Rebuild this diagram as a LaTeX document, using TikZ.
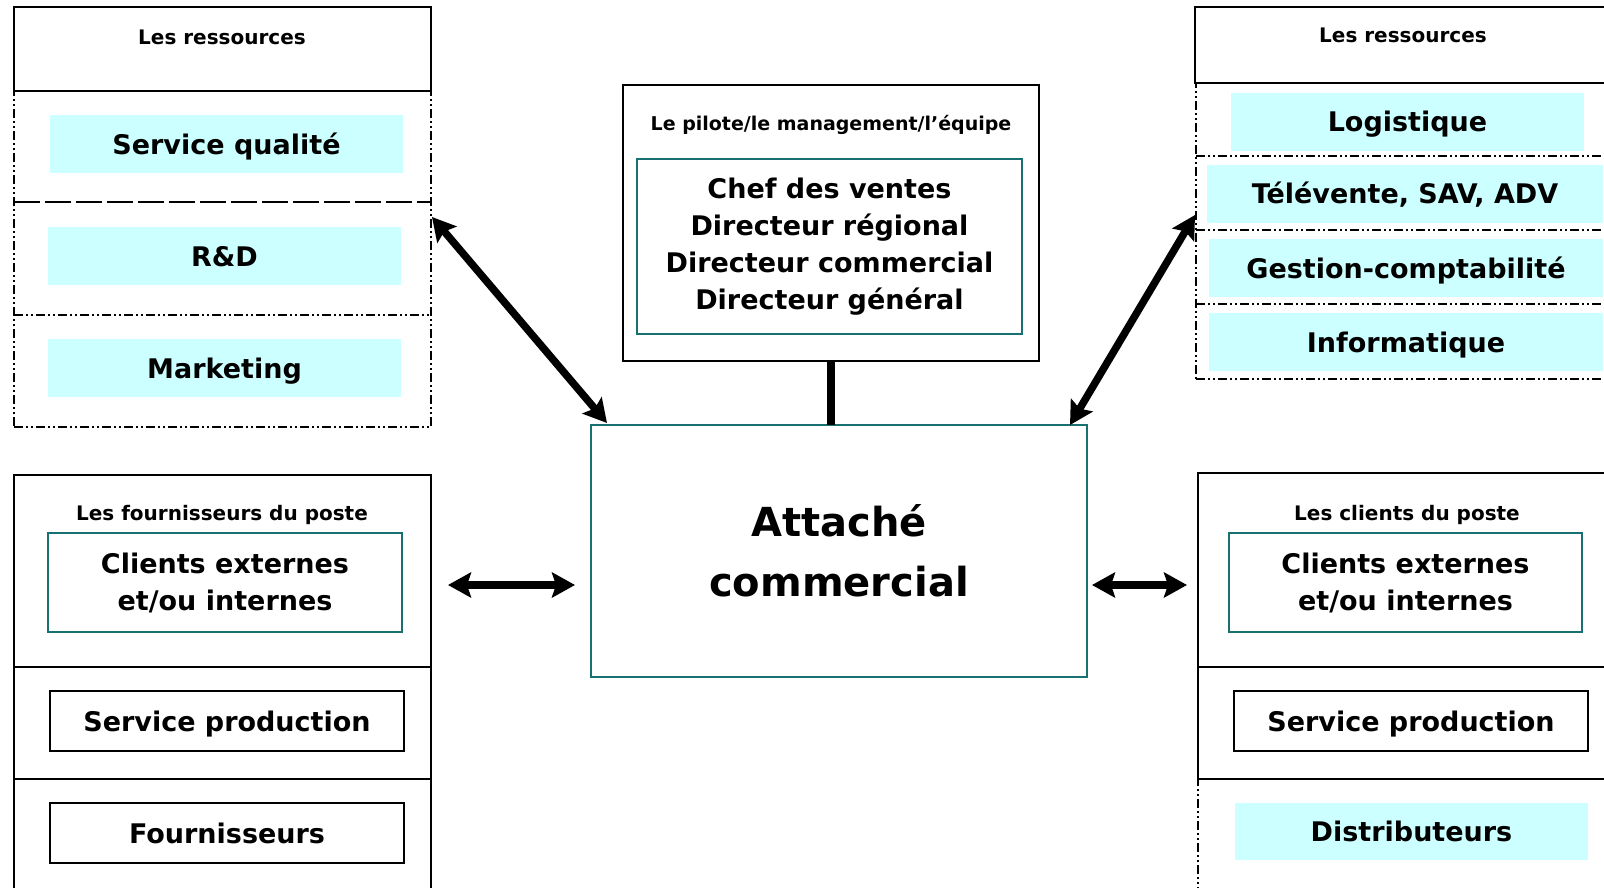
\documentclass[tikz,border=0pt]{standalone}
\usepackage{fontspec}
\setmainfont{DejaVu Sans}
\usetikzlibrary{arrows.meta}
\definecolor{bleuclair}{RGB}{204,255,255}
\definecolor{sarcelle}{RGB}{24,112,112}

\begin{document}
\begin{tikzpicture}[x=1pt,y=-1pt,
    cadre/.style={draw=black,line width=2pt,inner sep=0pt,outer sep=0pt},
    pointille/.style={draw=black,line width=1.6pt,dash pattern=on 9pt off 3pt on 2pt off 3pt on 2pt off 3pt,inner sep=0pt,outer sep=0pt},
    tirets/.style={draw=black,line width=1.6pt,dash pattern=on 26pt off 5pt},
    fondbleu/.style={fill=bleuclair,inner sep=0pt,outer sep=0pt,text height=24pt,text depth=4pt,font=\fontsize{27}{37}\selectfont\bfseries},
    boitenoire/.style={draw=black,line width=2pt,inner sep=0pt,outer sep=0pt,text height=24pt,text depth=4pt,font=\fontsize{27}{37}\selectfont\bfseries},
    boitebleue/.style={draw=sarcelle,line width=1.6pt,inner sep=0pt,outer sep=0pt,align=center,font=\fontsize{27}{37}\selectfont\bfseries},
    titre/.style={inner sep=0pt,font=\fontsize{20}{24}\selectfont\bfseries},
    fleche/.style={line width=7.5pt,{Stealth[length=23pt,width=25pt,inset=4pt]}-{Stealth[length=23pt,width=25pt,inset=4pt]}}]
    \useasboundingbox (0,0) rectangle (1604,888);

    % ressources de gauche
    \node[cadre,minimum width=417pt,minimum height=84pt] (resLtop) at (222.5,49) {};
    \node[titre] (resLtitre) at (222,37) {Les ressources};
    \node[pointille,minimum width=417pt,minimum height=336pt] (resLbody) at (222.5,259) {};
    \draw[tirets] (resLbody.west |- 0,202) -- (resLbody.east |- 0,202);
    \draw[pointille] (resLbody.west |- 0,315) -- (resLbody.east |- 0,315);
    \node[fondbleu,minimum width=353pt,minimum height=58pt] (qualite) at (226.5,144) {Service qualité};
    \node[fondbleu,minimum width=353pt,minimum height=58pt] (rd) at (224.5,256) {R\&D};
    \node[fondbleu,minimum width=353pt,minimum height=58pt] (marketing) at (224.5,368) {Marketing};

    % ressources de droite
    \node[cadre,minimum width=416pt,minimum height=76pt] (resRtop) at (1403,45) {};
    \node[titre] (resRtitre) at (1403,35) {Les ressources};
    \node[pointille,minimum width=415pt,minimum height=296pt] (resRbody) at (1403.5,231) {};
    \foreach \yy in {156,230,304}
        \draw[pointille] (resRbody.west |- 0,\yy) -- (resRbody.east |- 0,\yy);
    \node[fondbleu,minimum width=353pt,minimum height=58pt] (logistique) at (1407.5,122) {Logistique};
    \node[fondbleu,minimum width=396pt,minimum height=58pt] (televente) at (1405,194) {Télévente, SAV, ADV};
    \node[fondbleu,minimum width=394pt,minimum height=58pt] (gestion) at (1406,268) {Gestion-comptabilité};
    \node[fondbleu,minimum width=394pt,minimum height=58pt] (informatique) at (1406,342) {Informatique};

    % le pilote
    \node[cadre,minimum width=416pt,minimum height=276pt] (pilote) at (831,223) {};
    \node[titre,font=\fontsize{19}{24}\selectfont\bfseries] (pilotetitre) at (831,125) {Le pilote/le management/l’équipe};
    \node[boitebleue,minimum width=385pt,minimum height=175pt] (chefs) at (829.5,246.5)
        {Chef des ventes\\Directeur régional\\Directeur commercial\\Directeur général};

    % le poste
    \node[boitebleue,line width=2pt,minimum width=496pt,minimum height=252pt,
        font=\fontsize{40}{60}\selectfont\bfseries] (attache) at (839,551) {Attaché\\commercial};
    \draw[line width=8pt] (pilote.south) -- (pilote.south |- attache.north);

    % fournisseurs du poste
    \node[cadre,minimum width=417pt,minimum height=192pt] (fourTop) at (222.5,571) {};
    \node[cadre,minimum width=417pt,minimum height=112pt] (fourMid) at (222.5,723) {};
    \node[cadre,minimum width=417pt,minimum height=122pt] (fourBas) at (222.5,840) {};
    \node[titre] (fourtitre) at (222,515) {Les fournisseurs du poste};
    \node[boitebleue,minimum width=354pt,minimum height=99pt] (clientsL) at (225,582.5) {Clients externes\\et/ou internes};
    \node[boitenoire,minimum width=354pt,minimum height=60pt] (prodL) at (227,721) {Service production};
    \node[boitenoire,minimum width=354pt,minimum height=60pt] (fournisseurs) at (227,833) {Fournisseurs};

    % clients du poste
    \node[cadre,minimum width=413pt,minimum height=194pt] (cliTop) at (1404.5,570) {};
    \node[cadre,minimum width=413pt,minimum height=112pt] (cliMid) at (1404.5,723) {};
    \node[pointille,minimum width=413pt,minimum height=122pt] (cliBas) at (1404.5,840) {};
    \node[titre] (clititre) at (1407,515) {Les clients du poste};
    \node[boitebleue,minimum width=353pt,minimum height=99pt] (clientsR) at (1405.5,582.5) {Clients externes\\et/ou internes};
    \node[boitenoire,minimum width=354pt,minimum height=60pt] (prodR) at (1411,721) {Service production};
    \node[fondbleu,minimum width=353pt,minimum height=57pt] (distributeurs) at (1411.5,831.5) {Distributeurs};

    % liaisons
    \draw[fleche] ([shift={(1,126)}]resLbody.north east) -- ([shift={(16,-2)}]attache.north west);
    \draw[fleche] ([shift={(-1,132)}]resRbody.north west) -- ([shift={(-17,0)}]attache.north east);
    \draw[fleche] ([shift={(17,14)}]fourTop.east) -- ([shift={(-16,34)}]attache.west);
    \draw[fleche] ([shift={(5,34)}]attache.east) -- ([shift={(-11,15)}]cliTop.west);
\end{tikzpicture}
\end{document}
